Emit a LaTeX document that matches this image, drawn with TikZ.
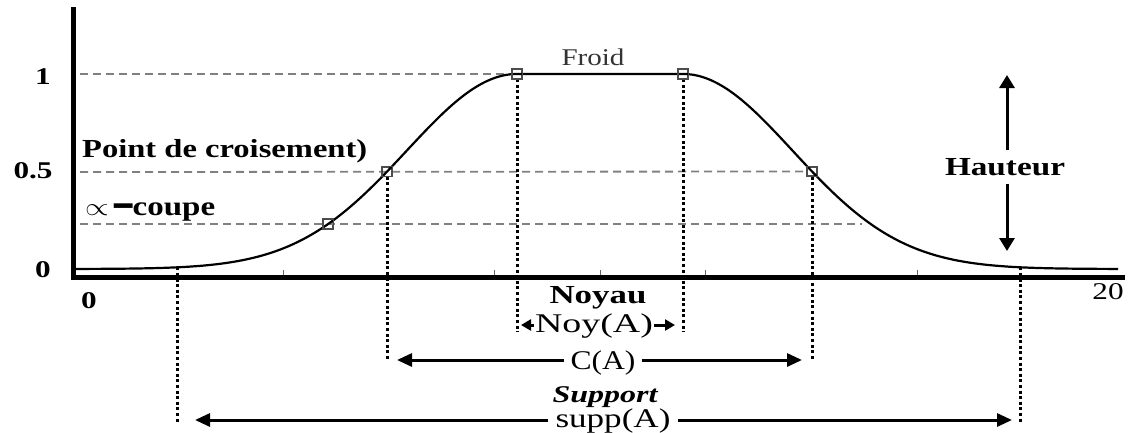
\documentclass[tikz,border=0pt]{standalone}
\usepackage{fontspec}
\usepackage{graphicx}
\setmainfont{Liberation Serif}
\usetikzlibrary{arrows.meta}
\newcommand\wfit[2]{\resizebox{#1}{\height}{#2}}
\newcommand\fsz[1]{\fontsize{#1}{#1}\selectfont}
\begin{document}
\begin{tikzpicture}[x=1pt,y=-1pt,
  axisline/.style={line width=5pt, line join=miter},
  guide/.style={draw=black!50, line width=1.8pt, dash pattern=on 8pt off 5pt},
  drop/.style={line width=3pt, dash pattern=on 3pt off 2.6pt},
  curveline/.style={line width=2.2pt},
  mk/.style={draw=black!70, line width=1.2pt, rectangle, minimum size=9pt, inner sep=0pt},
  dimarrow/.style={line width=3pt, -{Triangle[length=15pt,width=13pt]}},
  smallarrow/.style={line width=3pt, -{Triangle[length=10pt,width=11pt]}},
  harrow/.style={line width=3pt, -{Triangle[length=13pt,width=15pt]}},
  lab/.style={inner sep=0pt},
  tickline/.style={draw=black!60, line width=1pt}
]
\useasboundingbox (0,0) rectangle (1128,432);

% ---- coordinates
\coordinate (ytop) at (73,7);
\coordinate (orig) at (73,277);
\coordinate (xend) at (1125,277);
\coordinate (g1) at (80,74);
\coordinate (g2) at (80,172);
\coordinate (g3) at (80,224);
\coordinate (g3e) at (862,224);
\coordinate (s1) at (177,267.3);
\coordinate (s2) at (1020,267.3);
\coordinate (s1b) at (177,422);
\coordinate (s2b) at (1020,422);
\coordinate (m2b) at (387,360);
\coordinate (m5b) at (812,360);
\coordinate (m3b) at (517,332);
\coordinate (m4b) at (683,332);

% ---- markers (nodes, drawn later on top)
\path (328,224.1) node[mk] (m1) {}
      (387,171.6) node[mk] (m2) {}
      (517,74) node[mk] (m3) {}
      (683,74) node[mk] (m4) {}
      (812,171.5) node[mk] (m5) {};

% ---- dashed guide lines
\draw[guide] (g1) -- (m3);
\draw[guide] (g2) -- (m5);
\draw[guide] (g3) -- (g3e);

% ---- dotted drop lines
\draw[drop] (s1) -- (s1b);
\draw[drop] (m2) -- (m2b);
\draw[drop] (m3) -- (m3b);
\draw[drop] (m4) -- (m4b);
\draw[drop] (m5) -- (m5b);
\draw[drop] (s2) -- (s2b);

% ---- membership curve
\draw[curveline] plot[domain=75:517,samples=100,smooth] (\x,{269-195*exp(-((\x-517)/156)*((\x-517)/156))})
  -- plot[domain=683:1118,samples=100,smooth] (\x,{269-195*exp(-((\x-683)/155)*((\x-683)/155))});

% ---- ticks
\foreach \t in {283,494,600,705,917}
  \draw[tickline] (\t,270) -- (\t,275);

% ---- axes
\draw[axisline] (ytop) -- (orig) -- (xend);

% ---- markers on top
\foreach \m in {m1,m2,m3,m4,m5}
  \draw[mk] (\m.south west) rectangle (\m.north east);

% ---- axis labels
\node[lab, anchor=base] (y1) at (43,84) {\scalebox{1.3}[1]{\fsz{24}\bfseries 1}};
\node[lab, anchor=base] (y05) at (33,178) {\scalebox{1.3}[1]{\fsz{24}\bfseries 0.5}};
\node[lab, anchor=base] (y0) at (43,277) {\scalebox{1.3}[1]{\fsz{24}\bfseries 0}};
\node[lab, anchor=base] (x0) at (89,308) {\scalebox{1.3}[1]{\fsz{24}\bfseries 0}};
\node[lab, anchor=base] (x20) at (1108,299) {\scalebox{1.3}[1]{\fsz{24}20}};

% ---- text labels
\node[lab, anchor=base west] (pc) at (82,157) {\wfit{285pt}{\fsz{26}\bfseries Point de croisement)}};
\node[lab, anchor=base west] (ac) at (85,215) {\wfit{130pt}{\fsz{27}$\propto$\,\raisebox{-6pt}{\scalebox{1}[2.2]{\fsz{30}\bfseries –}}\bfseries coupe}};
\node[lab, anchor=base, text=black!80] (fr) at (593,65) {\wfit{63pt}{\fsz{24}Froid}};
\node[lab, anchor=base] (ny) at (598,303) {\wfit{97pt}{\fsz{26}\bfseries Noyau}};
\node[lab, anchor=base, inner xsep=1pt] (noy) at (594,332) {\wfit{118pt}{\fsz{27}Noy(A)}};
\node[lab, anchor=base, inner xsep=6pt] (ca) at (603,369) {\wfit{65pt}{\fsz{27}C(A)}};
\node[lab, anchor=base] (sp) at (605,402) {\wfit{105pt}{\fsz{24}\bfseries\itshape Support}};
\node[lab, anchor=base, inner xsep=7pt] (supp) at (613,427) {\wfit{115pt}{\fsz{27}supp(A)}};
\node[lab, anchor=base, inner ysep=8pt] (ht) at (1005,175) {\wfit{120pt}{\fsz{26}\bfseries Hauteur}};

% ---- dimension arrows
\coordinate (noyL) at (521,325);
\coordinate (noyR) at (675,325);
\coordinate (caL) at (397,360);
\coordinate (caR) at (802,360);
\coordinate (suppL) at (195,420);
\coordinate (suppR) at (1012,420);
\coordinate (hT) at (1007,75);
\coordinate (hB) at (1007,251);

\draw[smallarrow] (noy.west |- noyL) -- (noyL);
\draw[smallarrow] (noy.east |- noyR) -- (noyR);
\draw[dimarrow] (ca.west |- caL) -- (caL);
\draw[dimarrow] (ca.east |- caR) -- (caR);
\draw[dimarrow] (supp.west |- suppL) -- (suppL);
\draw[dimarrow] (supp.east |- suppR) -- (suppR);
\draw[harrow] (ht.north -| hT) -- (hT);
\draw[harrow] (ht.south -| hB) -- (hB);
\end{tikzpicture}
\end{document}
